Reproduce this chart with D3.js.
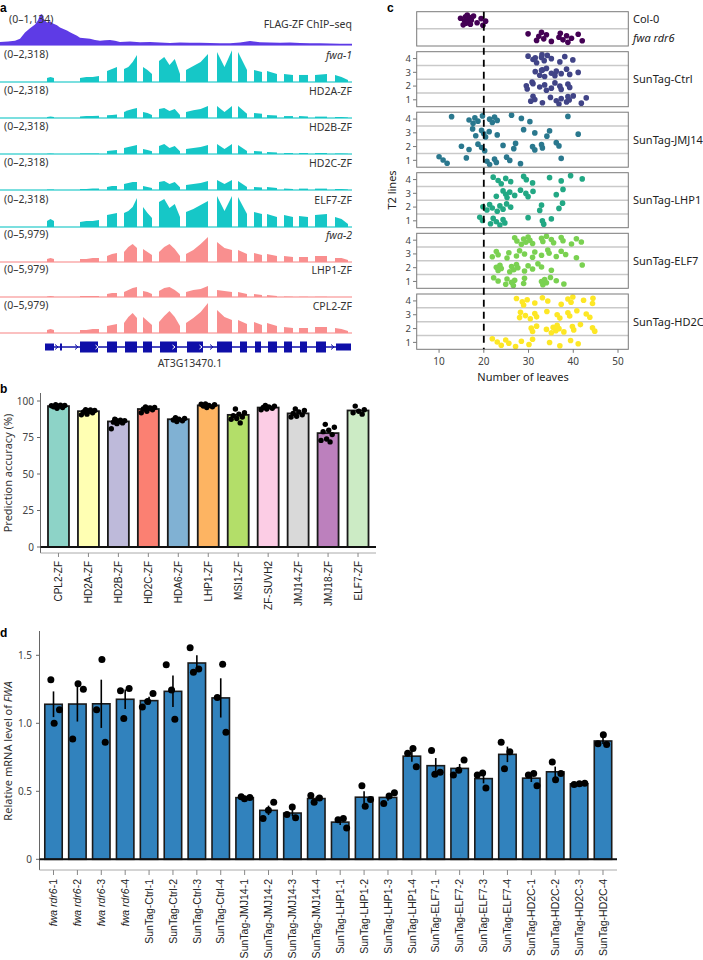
<!DOCTYPE html>
<html><head><meta charset="utf-8">
<script src="https://cdn.jsdelivr.net/npm/d3@7"></script>
<style>body{margin:0;background:#fff}svg{display:block}</style>
</head><body>
<svg id="chart" width="703" height="960"></svg>
<script>
// ---------------- DATA ----------------
// Panel a: genome browser tracks
const trackNames = ["FLAG-ZF ChIP–seq","fwa-1","HD2A-ZF","HD2B-ZF","HD2C-ZF","ELF7-ZF","fwa-2","LHP1-ZF","CPL2-ZF"];
const trackItalic = [false,true,false,false,false,false,true,false,false];
const trackRangeLabels = ["(0–1,134)","(0–2,318)","(0–2,318)","(0–2,318)","(0–2,318)","(0–2,318)","(0–5,979)","(0–5,979)","(0–5,979)"];
const trackMax = [1134,2318,2318,2318,2318,2318,5979,5979,5979];
const chipPos = [0,8,15,20,25,30,35,38,40,42,44,47,50,53,57,60,64,67,70,73,77,80,85,90,95,100,105,110,115,120,130,140,150,160,170,180,190,200,210,220,230,240,250,260,270,280,290,300,310,320,330,340,352];
const chipVal = [110,120,150,220,440,590,730,880,1060,1100,900,800,840,760,700,620,560,510,450,400,330,260,240,220,180,150,170,180,150,110,120,100,110,90,70,90,80,80,70,60,60,90,140,100,90,80,90,70,60,60,50,40,40];
const exonRegions = [[47,54],[80,99],[107,117],[124,137],[143,152],[159,180],[186,208],[217,232],[238,247],[254,262],[267,277],[284,293],[299,308],[315,327],[335,348]];
const fwa1Cov = [[290,360,290],[290,360,360,430],[800,940,1090],[940,1090,1450,1960],[1090,870,580],[1520,1810,1230,1670,580],[870,1160,1450,2030],[2170,1090,2300],[2170,870],[870,720],[800,580],[580,510],[510,510],[510,580],[510,360,140]];
const hd2aCov = [[70,100,70],[100,140,140,170],[200,220,250],[430,560,650,720],[430,360,220],[650,720,500,650,220],[430,560,650,870],[870,430,870],[870,300],[360,300],[220,180],[140,140],[140,100],[100,100],[70,70,30]];
const hd2bCov = [[20,30,20],[30,30,40,40],[220,250,290],[430,500,580,650],[360,290,200],[580,720,430,580,200],[360,430,500,650],[720,360,720],[650,220],[220,180],[140,100],[70,70],[70,70],[70,70],[40,40,20]];
const hd2cCov = [[30,40,30],[70,70,100,100],[220,290,290],[430,500,580,580],[290,220,140],[580,650,430,580,200],[360,430,500,650],[720,430,720],[650,220],[220,180],[220,140],[100,70],[100,100],[100,100],[70,70,30]];
const elf7Cov = [[430,580,430],[360,430,430,500],[870,940,1010],[1010,1160,1450,2100],[1450,1010,650],[1810,2030,1380,1670,720],[1090,1300,1600,1890],[2250,1160,2250],[2170,940],[1090,940],[940,720],[870,720],[800,720],[870,940],[720,580,220]];
const fwa2Cov = [[560,750,560],[560,560,750,750],[1120,1500,1690],[1870,2800,3370,2620],[2430,1870,1310],[1870,2810,3370,2430,1120],[1500,2250,3370,4680],[3740,2620,2250],[2250,1500],[1690,1310],[1500,1120],[1120,940],[940,940],[1120,1120],[750,750,370]];
const lhp1Cov = [[90,190,90],[190,190,190,190],[560,750,750],[940,1310,1690,1870],[1120,940,560],[1120,1690,1870,1310,560],[940,1310,1500,2060],[1310,1120,940],[940,560],[560,370],[370,190],[90,50],[50,50],[50,50],[20,20,0]];
const cpl2Cov = [[560,750,560],[560,560,750,750],[1310,1500,1690],[1870,2990,3740,2810],[2990,2250,1500],[2060,3180,4120,2990,1310],[1870,2810,3930,5610],[4300,3000,2430],[2430,1690],[2060,1500],[1870,1310],[1120,940],[940,940],[1120,1120],[940,750,370]];
const geneExons = [[45,54,"utr"],[60,62,"utr"],[80,98,"cds"],[107,117,"cds"],[125,137,"cds"],[143,152,"cds"],[160,177,"cds"],[187,203,"cds"],[217,232,"cds"],[240,247,"cds"],[255,261,"cds"],[268,277,"cds"],[284,292,"cds"],[300,307,"cds"],[316,326,"cds"],[336,351,"utr"]];
const geneName = "AT3G13470.1";

// Panel b
const bCategories = ["CPL2-ZF","HD2A-ZF","HD2B-ZF","HD2C-ZF","HDA6-ZF","LHP1-ZF","MSI1-ZF","ZF-SUVH2","JMJ14-ZF","JMJ18-ZF","ELF7-ZF"];
const bAccuracy = [96.5,93,86,94.5,87.5,97,90.5,95.5,91.5,78,93.5];
const bPoints = [
  [97.5,97,96.5,96,95.5,95,96.8,97.2],
  [94,93.5,93,92.5,92,91,90.5,93.8,92.8],
  [87,86.5,86,85.5,85,84.5,81,86.8,87.5],
  [96,95.5,95,94.5,94,93,92,95.2],
  [88.5,88,87.5,87,86.5,86],
  [98,97.5,97,96.5,96,95.5,97.8],
  [94.5,92,91,90,89,88,87.5,85],
  [97,96.5,96,95.5,95,94.5,94],
  [94.5,93.5,92.5,91.5,90.5,89.5,89],
  [84,82,80,79,77,74,73,72],
  [96.5,94,93,92,91]
];
const bTicks = [0,25,50,75,100];

// Panel c
const cControlRows = ["Col-0","fwa rdr6"];
const col0Leaves = [14.8,15.4,15.7,15.9,16.0,16.2,16.3,16.5,16.9,17.0,17.2,17.7,18.5,19.4,19.8,20.4];
const fwaRdr6Leaves = [29.9,31.8,32.3,32.9,33.4,34.0,35.1,36.8,37.1,37.7,38.5,38.8,39.6,41.1,42.0];
const cGroups = ["SunTag-Ctrl","SunTag-JMJ14","SunTag-LHP1","SunTag-ELF7","SunTag-HD2C"];
const cT2Lines = [1,2,3,4];
// leaves[group][line-1]
const ctrlLeaves = [
  [31.0,31.4,33.1,34.9,36.2,36.8,37.3,38.5,38.8,39.1,41.8,42.9,30.5,40.0],
  [29.5,29.7,31.0,32.5,34.0,33.6,35.1,35.9,37.0,37.3,38.8,39.2,30.8],
  [32.5,33.1,35.1,33.6,36.2,39.2,38.5,41.1,35.9,32.9,37.3,34.0,31.5],
  [29.9,31.0,31.8,32.9,33.5,34.2,35.1,37.0,38.1,39.9,33.0,31.5]
];
const jmj14Leaves = [
  [10.0,10.9,11.8,16.1,20.7,21.3,22.4,22.8,25.1,25.8,28.2,37.3],
  [15.0,16.7,18.7,19.5,20.2,24.3,26.7,27.1,30.9,31.4,32.9,33.1,36.2,36.8],
  [18.2,19.5,20.0,20.4,21.2,23.0,28.9,31.4,34.1,34.7,41.1,17.5],
  [12.8,16.7,17.6,18.0,18.7,19.7,21.3,21.9,22.4,23.0,26.2,28.4,30.3,38.8]
];
const lhp1Leaves = [
  [19.1,19.7,21.5,22.1,22.8,23.6,24.3,24.7,29.9,33.1,33.4,35.1],
  [19.8,20.7,21.3,21.9,23.0,23.6,24.3,25.1,26.0,32.5,32.9,36.8,37.6],
  [22.8,24.3,24.9,25.2,25.8,26.9,28.2,29.4,29.9,31.0,36.2,37.7],
  [22.1,23.2,23.9,24.9,26.0,28.9,29.5,30.9,34.7,37.3,39.4,42.0]
];
const elf7Leaves = [
  [22.2,23.2,24.9,25.2,26.2,26.6,26.9,28.9,29.1,32.9,33.2,33.6,34.0,34.9,36.2,37.9],
  [22.8,23.2,23.6,23.9,25.8,26.2,26.7,27.3,27.6,29.1,29.9,30.9,32.1,32.9,35.1,42.0],
  [21.9,22.8,23.2,25.2,25.6,27.3,28.0,29.1,30.9,31.4,32.9,34.3,34.6,36.2,37.3,38.3,40.7],
  [26.9,27.4,28.4,28.9,29.4,29.9,30.3,30.9,32.9,33.2,34.0,35.1,35.6,37.3,37.7,39.6,40.7,41.8]
];
const hd2cLeaves = [
  [21.9,23.0,23.9,24.9,25.6,27.1,28.4,30.1,30.9,34.7,37.0,39.4,41.1],
  [30.6,30.9,31.8,34.0,35.1,35.5,36.1,36.4,36.8,37.9,39.8,40.1,41.6,44.3,44.8],
  [28.0,28.2,29.3,30.4,31.4,31.8,34.1,36.4,37.0,38.8,39.2,40.8,42.9,43.7],
  [27.3,28.6,28.9,29.7,31.4,33.1,34.3,37.3,38.8,39.5,39.9,42.3,44.3,44.4]
];
const cLeaves = [ctrlLeaves,jmj14Leaves,lhp1Leaves,elf7Leaves,hd2cLeaves];
const cXTicks = [10,20,30,40,50];
const cThreshold = 20;

// Panel d
const dLines = ["fwa rdr6-1","fwa rdr6-2","fwa rdr6-3","fwa rdr6-4","SunTag-Ctrl-1","SunTag-Ctrl-2","SunTag-Ctrl-3","SunTag-Ctrl-4","SunTag-JMJ14-1","SunTag-JMJ14-2","SunTag-JMJ14-3","SunTag-JMJ14-4","SunTag-LHP1-1","SunTag-LHP1-2","SunTag-LHP1-3","SunTag-LHP1-4","SunTag-ELF7-1","SunTag-ELF7-2","SunTag-ELF7-3","SunTag-ELF7-4","SunTag-HD2C-1","SunTag-HD2C-2","SunTag-HD2C-3","SunTag-HD2C-4"];
const dReplicates = [
  [1.32,1.10,1.00],[1.25,1.29,0.885],[1.47,1.10,0.86],[1.24,1.255,1.035],
  [1.22,1.16,1.12],[1.245,1.43,1.03],[1.555,1.40,1.375],[1.435,1.19,0.935],
  [0.46,0.455,0.445],[0.42,0.36,0.30],[0.385,0.33,0.305],[0.47,0.45,0.42],
  [0.30,0.29,0.23],[0.54,0.44,0.39],[0.49,0.465,0.41],[0.815,0.78,0.68],
  [0.80,0.64,0.625],[0.73,0.655,0.62],[0.635,0.62,0.525],[0.86,0.79,0.665],
  [0.63,0.62,0.54],[0.715,0.63,0.585],[0.56,0.555,0.55],[0.915,0.85,0.845]
];
const dTicks = [0,0.5,1.0,1.5];

// ---------------- DRAWING ----------------
const svg = d3.select("#chart");
const SANS = "'Noto Sans', 'DejaVu Sans', sans-serif";
const ARIAL = "'Liberation Sans', Arial, sans-serif";
const jit = i => ((i * 0.6180339887 + 0.31) % 1) - 0.5;

function panelLabel(t, x, y) {
  svg.append("text").attr("x", x).attr("y", y).text(t)
    .attr("font-family", ARIAL).attr("font-weight", "bold").attr("font-size", 12).attr("fill", "#000");
}

// ===== Panel a =====
panelLabel("a", 0, 11.5);
const ga = svg.append("g");
const xa = d3.scaleLinear().domain([0, 352]).range([0, 352]);
const trackBase = [45,82,118,154,190,227,262,297,333];
const trackColor = i => i === 0 ? "#5e3be6" : (i <= 5 ? "#16c7c7" : "#f98f8f");
const covTracks = [null, fwa1Cov, hd2aCov, hd2bCov, hd2cCov, elf7Cov, fwa2Cov, lhp1Cov, cpl2Cov];

trackNames.forEach((name, i) => {
  const base = trackBase[i];
  const ys = d3.scaleLinear().domain([0, trackMax[i]]).range([base, base - 32]);
  const col = trackColor(i);
  const area = d3.area().x(d => xa(d[0])).y0(base).y1(d => ys(d[1]));
  if (i === 0) {
    const pts = chipPos.map((p, k) => [p, chipVal[k]]);
    ga.append("path").datum(pts).attr("d", area).attr("fill", col);
  } else {
    covTracks[i].forEach((vals, e) => {
      const [s, t] = exonRegions[e];
      const n = vals.length;
      const pts = [[s, 0]].concat(vals.map((v, k) => [s + (t - s) * k / (n - 1), v])).concat([[t, 0]]);
      ga.append("path").datum(pts).attr("d", area).attr("fill", col);
    });
  }
  ga.append("line").attr("x1", xa(0)).attr("x2", xa(352)).attr("y1", base).attr("y2", base)
    .attr("stroke", col).attr("stroke-width", 1.6).attr("opacity", 0.75);
  ga.append("text").attr("x", i === 0 ? 9 : 4).attr("y", base - (i === 0 ? 22.5 : 24)).text(trackRangeLabels[i])
    .attr("font-family", SANS).attr("font-size", 10.5).attr("fill", "#333");
  ga.append("text").attr("x", 352).attr("y", base - (i === 0 ? 17 : 23)).attr("text-anchor", "end")
    .text(name).attr("font-family", SANS).attr("font-size", 10.5).attr("fill", "#333")
    .attr("font-style", trackItalic[i] ? "italic" : "normal");
});

// gene model
const geneY = 347, navy = "#0f0fa8";
ga.append("line").attr("x1", xa(45)).attr("x2", xa(351)).attr("y1", geneY).attr("y2", geneY)
  .attr("stroke", navy).attr("stroke-width", 1.3);
geneExons.forEach(([s, t, k]) => {
  const h = k === "utr" ? 7 : 11;
  ga.append("rect").attr("x", xa(s)).attr("width", xa(t) - xa(s)).attr("y", geneY - h / 2).attr("height", h).attr("fill", navy);
});
[57, 77, 212, 333].forEach(p => {
  ga.append("path").attr("d", `M${xa(p)-2},${geneY-2.5}L${xa(p)+1},${geneY}L${xa(p)-2},${geneY+2.5}`)
    .attr("fill", "none").attr("stroke", navy).attr("stroke-width", 1);
});
[97, 174, 201].forEach(p => {
  ga.append("path").attr("d", `M${xa(p)-1.5},${geneY-2}L${xa(p)+1},${geneY}L${xa(p)-1.5},${geneY+2}`)
    .attr("fill", "none").attr("stroke", "#fff").attr("stroke-width", 1);
});
ga.append("text").attr("x", 190).attr("y", 367).attr("text-anchor", "middle").text(geneName)
  .attr("font-family", SANS).attr("font-size", 10.5).attr("fill", "#333");

// ===== Panel b =====
panelLabel("b", 0, 393);
const gb = svg.append("g");
const xb = d3.scaleBand().domain(bCategories).range([43.5, 373]).paddingInner(0.3).paddingOuter(0.15);
const yb = d3.scaleLinear().domain([0, 100]).range([547, 401]);
const bColors = d3.schemeSet3;
gb.append("line").attr("x1", 40.5).attr("x2", 40.5).attr("y1", 393).attr("y2", 553).attr("stroke", "#666").attr("stroke-width", 1);
bTicks.forEach(t => {
  gb.append("line").attr("x1", 37).attr("x2", 40.5).attr("y1", yb(t)).attr("y2", yb(t)).attr("stroke", "#666");
  gb.append("text").attr("x", 34).attr("y", yb(t)).attr("dy", "0.35em").attr("text-anchor", "end").text(t)
    .attr("font-family", SANS).attr("font-size", 10).attr("fill", "#444");
});
gb.append("text").attr("transform", "translate(12,473) rotate(-90)").attr("text-anchor", "middle")
  .text("Prediction accuracy (%)").attr("font-family", SANS).attr("font-size", 11).attr("fill", "#333");
bCategories.forEach((c, i) => {
  gb.append("rect").attr("x", xb(c)).attr("width", xb.bandwidth()).attr("y", yb(bAccuracy[i]))
    .attr("height", yb(0) - yb(bAccuracy[i])).attr("fill", bColors[i]).attr("stroke", "#1a1a1a").attr("stroke-width", 1.8);
});
gb.append("line").attr("x1", 40.5).attr("x2", 376).attr("y1", yb(0)).attr("y2", yb(0)).attr("stroke", "#111").attr("stroke-width", 2);
bCategories.forEach((c, i) => {
  bPoints[i].forEach((v, k) => {
    gb.append("circle").attr("cx", xb(c) + xb.bandwidth() / 2 + jit(k) * xb.bandwidth() * 0.7)
      .attr("cy", yb(v)).attr("r", 2.7).attr("fill", "#000");
  });
});
gb.append("line").attr("x1", 40.5).attr("x2", 376).attr("y1", 553).attr("y2", 553).attr("stroke", "#aaa").attr("stroke-width", 1);
bCategories.forEach(c => {
  const cx = xb(c) + xb.bandwidth() / 2;
  gb.append("line").attr("x1", cx).attr("x2", cx).attr("y1", 553).attr("y2", 557).attr("stroke", "#888");
  gb.append("text").attr("transform", `translate(${cx},561) rotate(-90)`).attr("dy", "0.35em")
    .attr("text-anchor", "end").text(c).attr("font-family", ARIAL).attr("font-size", 10).attr("fill", "#222");
});

// ===== Panel c =====
panelLabel("c", 387, 11.5);
const gc = svg.append("g");
const xc = d3.scaleLinear().domain([5, 52.3]).range([416.7, 628.3]);
const facetTops = [11.7, 51.7, 112.2, 172.7, 233.3, 294];
const facetBots = [46, 106.7, 167.2, 227.7, 288.3, 349.3];
const vir = g => d3.interpolateViridis(g / 5);
const gridCol = "#c9c9c9";

// facet 0: controls
{
  const top = facetTops[0], bot = facetBots[0];
  const yr = d3.scaleBand().domain(cControlRows).range([top, bot]);
  gc.append("line").attr("x1", xc.range()[0]).attr("x2", xc.range()[1])
    .attr("y1", (top + bot) / 2).attr("y2", (top + bot) / 2).attr("stroke", gridCol).attr("stroke-width", 1.5);
  [col0Leaves, fwaRdr6Leaves].forEach((arr, r) => {
    const cy = yr(cControlRows[r]) + yr.bandwidth() / 2;
    arr.forEach((v, k) => {
      gc.append("circle").attr("cx", xc(v)).attr("cy", cy + jit(k + r * 3) * yr.bandwidth() * 0.62)
        .attr("r", 2.8).attr("fill", vir(0));
    });
    gc.append("text").attr("x", 633).attr("y", cy + (r === 0 ? -1 : 1)).attr("dy", "0.35em").text(cControlRows[r])
      .attr("font-family", SANS).attr("font-size", 11).attr("fill", "#222")
      .attr("font-style", r === 1 ? "italic" : "normal");
  });
  gc.append("rect").attr("x", xc.range()[0]).attr("y", top).attr("width", xc.range()[1] - xc.range()[0])
    .attr("height", bot - top).attr("fill", "none").attr("stroke", "#7a7a7a").attr("stroke-width", 1);
}
cGroups.forEach((gname, g) => {
  const top = facetTops[g + 1], bot = facetBots[g + 1];
  const yl = d3.scaleLinear().domain([0.5, 4.5]).range([bot, top]);
  [1.5, 2.5, 3.5].forEach(v => {
    gc.append("line").attr("x1", xc.range()[0]).attr("x2", xc.range()[1]).attr("y1", yl(v)).attr("y2", yl(v))
      .attr("stroke", gridCol).attr("stroke-width", 1.5);
  });
  cT2Lines.forEach(line => {
    gc.append("line").attr("x1", 413).attr("x2", 416.7).attr("y1", yl(line)).attr("y2", yl(line)).attr("stroke", "#777");
    gc.append("text").attr("x", 411).attr("y", yl(line)).attr("dy", "0.35em").attr("text-anchor", "end").text(line)
      .attr("font-family", SANS).attr("font-size", 9.5).attr("fill", "#444");
    cLeaves[g][line - 1].forEach((v, k) => {
      gc.append("circle").attr("cx", xc(v)).attr("cy", yl(line + jit(k + line) * 0.62))
        .attr("r", 2.8).attr("fill", vir(g + 1));
    });
  });
  gc.append("rect").attr("x", xc.range()[0]).attr("y", top).attr("width", xc.range()[1] - xc.range()[0])
    .attr("height", bot - top).attr("fill", "none").attr("stroke", "#7a7a7a").attr("stroke-width", 1);
  gc.append("text").attr("x", 633).attr("y", (top + bot) / 2).attr("dy", "0.35em").text(gname)
    .attr("font-family", SANS).attr("font-size", 11).attr("fill", "#222");
});
gc.append("line").attr("x1", xc(cThreshold)).attr("x2", xc(cThreshold)).attr("y1", facetTops[0]).attr("y2", facetBots[5])
  .attr("stroke", "#000").attr("stroke-width", 1.8).attr("stroke-dasharray", "7,5");
cXTicks.forEach(t => {
  gc.append("line").attr("x1", xc(t)).attr("x2", xc(t)).attr("y1", facetBots[5]).attr("y2", facetBots[5] + 3.5).attr("stroke", "#777");
  gc.append("text").attr("x", xc(t)).attr("y", 361).attr("dy", "0.35em").attr("text-anchor", "middle").text(t)
    .attr("font-family", SANS).attr("font-size", 10).attr("fill", "#444");
});
gc.append("text").attr("x", 523).attr("y", 381).attr("text-anchor", "middle").text("Number of leaves")
  .attr("font-family", SANS).attr("font-size", 11).attr("fill", "#222");
gc.append("text").attr("transform", "translate(396,190) rotate(-90)").attr("text-anchor", "middle").text("T2 lines")
  .attr("font-family", SANS).attr("font-size", 11).attr("fill", "#222");

// ===== Panel d =====
panelLabel("d", 0, 637);
const gd = svg.append("g");
const xd = d3.scaleBand().domain(dLines).range([41.2, 615.3]).paddingInner(0.27).paddingOuter(0.15);
const yd = d3.scaleLinear().domain([0, 1.5]).range([859.3, 655.3]);
gd.append("line").attr("x1", 39.5).attr("x2", 39.5).attr("y1", 631).attr("y2", 870).attr("stroke", "#666");
dTicks.forEach(t => {
  gd.append("line").attr("x1", 36).attr("x2", 39.5).attr("y1", yd(t)).attr("y2", yd(t)).attr("stroke", "#666");
  gd.append("text").attr("x", 32).attr("y", yd(t)).attr("dy", "0.35em").attr("text-anchor", "end")
    .text(t === 0 ? "0" : t.toFixed(1)).attr("font-family", SANS).attr("font-size", 10).attr("fill", "#444");
});
{
  const t = gd.append("text").attr("transform", "translate(12,751) rotate(-90)").attr("text-anchor", "middle")
    .attr("font-family", SANS).attr("font-size", 11).attr("fill", "#333");
  t.append("tspan").text("Relative mRNA level of ");
  t.append("tspan").attr("font-style", "italic").text("FWA");
}
dLines.forEach((c, i) => {
  const reps = dReplicates[i];
  const m = d3.mean(reps);
  const se = d3.deviation(reps) / Math.sqrt(reps.length);
  const x0 = xd(c), bw = xd.bandwidth(), cx = x0 + bw / 2;
  gd.append("rect").attr("x", x0).attr("width", bw).attr("y", yd(m)).attr("height", yd(0) - yd(m))
    .attr("fill", "#3182bd").attr("stroke", "#1a1a1a").attr("stroke-width", 1.6);
  gd.append("line").attr("x1", cx).attr("x2", cx).attr("y1", yd(m - se)).attr("y2", yd(m + se))
    .attr("stroke", "#000").attr("stroke-width", 1.6);
  reps.forEach((v, k) => {
    gd.append("circle").attr("cx", cx + jit(k + i) * bw * 0.8).attr("cy", yd(v)).attr("r", 3.5).attr("fill", "#000");
  });
});
gd.append("line").attr("x1", 39.5).attr("x2", 617).attr("y1", yd(0)).attr("y2", yd(0)).attr("stroke", "#111").attr("stroke-width", 2);
gd.append("line").attr("x1", 39.5).attr("x2", 617).attr("y1", 870).attr("y2", 870).attr("stroke", "#aaa");
dLines.forEach(c => {
  const cx = xd(c) + xd.bandwidth() / 2;
  gd.append("line").attr("x1", cx).attr("x2", cx).attr("y1", 870).attr("y2", 875).attr("stroke", "#888");
  const t = gd.append("text").attr("transform", `translate(${cx},879) rotate(-90)`).attr("dy", "0.35em")
    .attr("text-anchor", "end").attr("font-family", ARIAL).attr("font-size", 10.5).attr("fill", "#222");
  if (c.startsWith("fwa rdr6")) {
    t.append("tspan").attr("font-style", "italic").text("fwa rdr6");
    t.append("tspan").text(c.slice(8));
  } else {
    t.text(c);
  }
});
</script>
</body></html>
